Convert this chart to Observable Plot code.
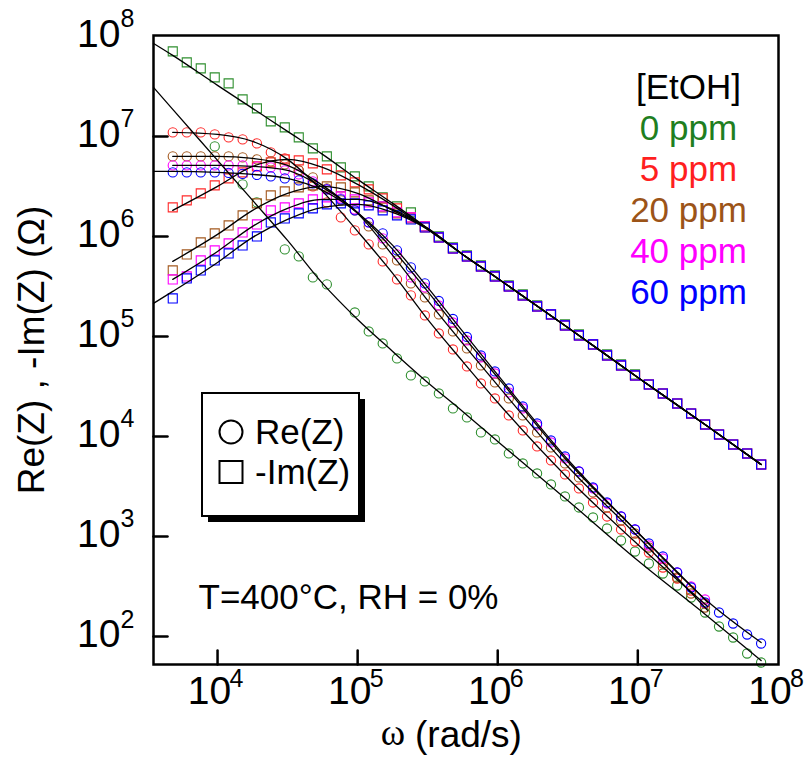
<!DOCTYPE html>
<html><head><meta charset="utf-8">
<script src="https://cdn.jsdelivr.net/npm/d3@7"></script>
<script src="https://cdn.jsdelivr.net/npm/@observablehq/plot@0.6"></script>
<style>
html,body{margin:0;padding:0;background:#fff;}
#chart svg{display:block;}
</style></head><body><div id="chart"></div>
<script>
// angular frequency of each measured point (rad/s)
const omega = [4.79e3, 6.03e3, 7.59e3, 9.55e3, 1.20e4, 1.51e4, 1.91e4, 2.40e4, 3.02e4, 3.80e4,
  4.79e4, 6.03e4, 7.59e4, 9.55e4, 1.20e5, 1.51e5, 1.91e5, 2.40e5, 3.02e5, 3.80e5,
  4.79e5, 6.03e5, 7.59e5, 9.55e5, 1.20e6, 1.51e6, 1.91e6, 2.40e6, 3.02e6, 3.80e6,
  4.79e6, 6.03e6, 7.59e6, 9.55e6, 1.20e7, 1.51e7, 1.91e7, 2.40e7, 3.02e7, 3.80e7,
  4.79e7, 6.03e7, 7.59e7];

const concentrations = ["0 ppm", "5 ppm", "20 ppm", "40 ppm", "60 ppm"];
const seriesColors = ["#2f8f2f", "#ff2a2a", "#a3581e", "#ff00ff", "#0000ff"];
const textColors = ["#1f7f1f", "#ff1f1f", "#9c5418", "#ff00ff", "#0000ff"];

// log10 of Re(Z) in ohm (null = no point)
const re0 = [null, null, null, 6.90, null, 6.52, 6.34, null, 5.87, 5.80, 5.59, 5.52, null, 5.24, 5.05, 4.93, 4.78, 4.61, 4.55, 4.43,
  4.28, 4.19, 4.04, 3.97, 3.83, 3.73, 3.63, 3.52, 3.40, 3.29, 3.19, 3.08, 2.96, 2.85, 2.73, 2.63, 2.51, 2.39, 2.24, 2.10,
  1.99, 1.83, 1.74];
const re5 = [7.04, 7.04, 7.04, 7.02, 6.99, 6.97, 6.93, 6.84, 6.78, 6.66, 6.50, 6.34, 6.19, 6.06, 5.92, 5.75, 5.57, 5.41, 5.21, 5.03,
  4.87, 4.70, 4.53, 4.38, 4.21, 4.06, 3.90, 3.76, 3.62, 3.48, 3.34, 3.20, 3.07, 2.95, 2.84, 2.69, 2.58, 2.46, 2.33, null,
  null, null, null];
const re20 = [6.80, 6.80, 6.80, 6.80, 6.80, 6.79, 6.77, 6.75, 6.72, 6.66, 6.59, 6.48, 6.36, 6.26, 6.10, 5.92, 5.76, 5.53, 5.39, 5.22,
  5.05, 4.88, 4.71, 4.54, 4.38, 4.21, 4.04, 3.89, 3.73, 3.59, 3.44, 3.29, 3.16, 3.03, 2.89, 2.73, 2.59, 2.43, 2.29, null,
  null, null, null];
const re40 = [6.71, 6.71, 6.71, 6.71, 6.71, 6.71, 6.70, 6.69, 6.66, 6.62, 6.55, 6.47, 6.38, 6.27, 6.14, 5.98, 5.82, 5.59, 5.49, 5.31,
  5.14, 4.96, 4.79, 4.63, 4.44, 4.28, 4.11, 3.94, 3.78, 3.65, 3.48, 3.33, 3.20, 3.07, 2.91, 2.78, 2.64, 2.50, 2.37, null,
  null, null, null];
const re60 = [6.64, 6.64, 6.64, 6.64, 6.635, 6.625, 6.615, 6.60, 6.58, 6.56, 6.53, 6.47, 6.37, 6.26, 6.14, 6.03, 5.86, 5.69, 5.53, 5.355,
  5.175, 4.995, 4.81, 4.65, 4.48, 4.30, 4.13, 3.96, 3.80, 3.65, 3.49, 3.34, 3.20, 3.07, 2.93, 2.80, 2.64, 2.49, 2.34, 2.24,
  2.13, 2.02, 1.93];

// log10 of -Im(Z) in ohm
const im0 = [7.85, 7.74, 7.68, 7.59, 7.53, 7.37, 7.28, 7.15, 7.09, 6.99, 6.88, 6.80, 6.69, 6.60, 6.50, 6.39, 6.30, 6.24, 6.10, 6.00,
  5.89, 5.81, 5.71, 5.61, 5.51, 5.42, 5.31, 5.22, 5.12, 5.02, 4.92, 4.82, 4.72, 4.62, 4.52, 4.43, 4.33, 4.23, 4.12, 4.02,
  3.92, 3.83, 3.72];
const im5 = [6.29, 6.36, 6.43, 6.51, 6.58, 6.64, 6.70, 6.74, 6.77, 6.76, 6.73, 6.67, 6.61, 6.54, 6.47, 6.38, 6.28, 6.19, 6.09, 5.99,
  5.88, 5.80, 5.70, 5.60, 5.50, 5.41, 5.30, 5.22, 5.11, 5.01, 4.92, 4.81, 4.71, 4.61, 4.52, 4.43, 4.33, 4.23, 4.12, 4.02,
  3.92, 3.83, 3.72];
const im20 = [5.66, 5.82, 5.94, 6.03, 6.11, 6.21, 6.33, 6.41, 6.45, 6.49, 6.51, 6.50, 6.49, 6.44, 6.36, 6.29, 6.23, 6.18, 6.10, 5.99,
  5.88, 5.80, 5.70, 5.60, 5.50, 5.41, 5.30, 5.22, 5.11, 5.01, 4.92, 4.81, 4.71, 4.61, 4.52, 4.43, 4.33, 4.23, 4.12, 4.02,
  3.92, 3.83, 3.72];
const im40 = [5.57, 5.60, 5.76, 5.86, 5.93, 6.04, 6.12, 6.26, 6.29, 6.33, 6.37, 6.39, 6.40, 6.37, 6.34, 6.30, 6.24, 6.19, 6.10, 5.99,
  5.88, 5.80, 5.70, 5.60, 5.50, 5.41, 5.30, 5.22, 5.11, 5.01, 4.92, 4.81, 4.71, 4.61, 4.52, 4.43, 4.33, 4.23, 4.12, 4.02,
  3.92, 3.83, 3.72];
const im60 = [5.38, 5.58, 5.66, 5.76, 5.83, 5.91, 6.00, 6.14, 6.18, 6.23, 6.28, 6.32, 6.33, 6.33, 6.31, 6.26, 6.21, 6.17, 6.09, 5.99,
  5.88, 5.80, 5.70, 5.60, 5.50, 5.41, 5.30, 5.22, 5.11, 5.01, 4.92, 4.81, 4.71, 4.61, 4.52, 4.43, 4.33, 4.23, 4.12, 4.02,
  3.92, 3.83, 3.72];

// fitted curves (log10 ohm) at these frequencies
const fitOmega = [3.49e3, 4.79e3, 1.0e4, 1.78e4, 3.16e4, 5.62e4, 1.0e5, 1.78e5, 3.16e5, 5.62e5, 1.0e6, 3.16e6, 1.0e7, 3.16e7, 7.59e7];
const fitRe0 = [7.49, 7.27, 6.76, 6.36, 5.96, 5.53, 5.17, 4.85, 4.54, 4.25, 3.95, 3.36, 2.76, 2.20, 1.76];
const fitRe5 = [null, 7.04, 7.02, 6.95, 6.77, 6.45, 6.05, 5.63, 5.17, 4.75, 4.34, 3.585, 2.92, 2.30, null];
const fitRe20 = [null, 6.80, 6.80, 6.78, 6.71, 6.51, 6.23, 5.81, 5.36, 4.93, 4.51, 3.70, 3.00, 2.26, null];
const fitRe40 = [null, 6.71, 6.71, 6.70, 6.66, 6.49, 6.24, 5.87, 5.45, 5.01, 4.59, 3.75, 3.04, 2.34, null];
const fitRe60 = [6.65, 6.65, 6.64, 6.62, 6.58, 6.46, 6.235, 5.91, 5.49, 5.05, 4.615, 3.77, 3.04, 2.35, 1.94];
const fitIm0 = [7.93, 7.81, 7.51, 7.28, 7.05, 6.82, 6.57, 6.33, 6.08, 5.82, 5.58, 5.09, 4.59, 4.10, 3.72];
const fitIm5 = [null, 6.26, 6.50, 6.70, 6.77, 6.69, 6.52, 6.31, 6.07, 5.82, 5.58, 5.09, 4.59, 4.10, 3.72];
const fitIm20 = [null, 5.75, 6.02, 6.26, 6.43, 6.50, 6.43, 6.26, 6.08, 5.82, 5.58, 5.09, 4.59, 4.10, 3.72];
const fitIm40 = [null, 5.57, 5.85, 6.10, 6.28, 6.37, 6.37, 6.27, 6.08, 5.82, 5.58, 5.09, 4.59, 4.10, 3.72];
const fitIm60 = [5.33, 5.45, 5.74, 5.99, 6.17, 6.29, 6.32, 6.24, 6.07, 5.82, 5.58, 5.09, 4.59, 4.10, 3.72];

const xTicks = [1e4, 1e5, 1e6, 1e7, 1e8];
const yTicks = [1e2, 1e3, 1e4, 1e5, 1e6, 1e7, 1e8];

const reSeries = [re0, re5, re20, re40, re60];
const imSeries = [im0, im5, im20, im40, im60];
const fitReSeries = [fitRe0, fitRe5, fitRe20, fitRe40, fitRe60];
const fitImSeries = [fitIm0, fitIm5, fitIm20, fitIm40, fitIm60];

function toRows(ws, logs) {
  return ws.map((w, i) => ({w, z: logs[i] == null ? null : Math.pow(10, logs[i])})).filter(d => d.z != null);
}

const FONT = "'Liberation Sans', Arial, sans-serif";
const tickShape = {draw(ctx, l) { ctx.moveTo(0, 0); ctx.lineTo(0, -l); }};

const marks = [];
concentrations.forEach((c, i) => {
  marks.push(Plot.dot(toRows(omega, imSeries[i]), {x: "w", y: "z", symbol: "square", r: 5.1, stroke: seriesColors[i], strokeWidth: 1.1, fill: "none"}));
  marks.push(Plot.dot(toRows(omega, reSeries[i]), {x: "w", y: "z", symbol: "circle", r: 4.6, stroke: seriesColors[i], strokeWidth: 1.1, fill: "none"}));
});
concentrations.forEach((c, i) => {
  marks.push(Plot.line(toRows(fitOmega, fitReSeries[i]), {x: "w", y: "z", stroke: "black", strokeWidth: 1.3, curve: "monotone-x"}));
  marks.push(Plot.line(toRows(fitOmega, fitImSeries[i]), {x: "w", y: "z", stroke: "black", strokeWidth: 1.3, curve: "monotone-x"}));
});

// inward ticks
marks.push(Plot.vector(xTicks.slice(0, 4), {x: d => d, frameAnchor: "bottom", length: 14, anchor: "start", shape: tickShape, stroke: "black", strokeWidth: 2.5}));
marks.push(Plot.vector(yTicks.slice(0, 6), {y: d => d, frameAnchor: "left", rotate: 90, length: 14, anchor: "start", shape: tickShape, stroke: "black", strokeWidth: 2.5}));
// tick labels: "10" with superscript exponent
marks.push(Plot.text(xTicks, {x: d => d, frameAnchor: "bottom", text: () => "10", dx: -8, dy: 39.5, fontSize: 39, textAnchor: "middle", fill: "black"}));
marks.push(Plot.text(xTicks, {x: d => d, frameAnchor: "bottom", text: d => String(Math.round(Math.log10(d))), dx: 12, dy: 22, fontSize: 25, textAnchor: "start", fill: "black"}));
marks.push(Plot.text(yTicks, {y: d => d, frameAnchor: "left", text: () => "10", dx: -33, dy: -2, fontSize: 39, textAnchor: "end", fill: "black"}));
marks.push(Plot.text(yTicks, {y: d => d, frameAnchor: "left", text: d => String(Math.round(Math.log10(d))), dx: -33, dy: -17, fontSize: 25, textAnchor: "start", fill: "black"}));

// axis titles
marks.push(Plot.text(["Re(Z) , -Im(Z) (Ω)"], {frameAnchor: "left", text: d => d, rotate: -90, dx: -121, fontSize: 37, textAnchor: "middle", fill: "black"}));
marks.push(Plot.text(["ω"], {frameAnchor: "bottom", text: d => d, dx: -73, dy: 80, fontSize: 37, textAnchor: "middle", fontFamily: "'Liberation Serif', 'Times New Roman', serif", fill: "black"}));
marks.push(Plot.text(["(rad/s)"], {frameAnchor: "bottom", text: d => d, dx: -51, dy: 82, fontSize: 37, textAnchor: "start", fill: "black"}));

// concentration legend
marks.push(Plot.text(["[EtOH]"], {frameAnchor: "top-right", text: d => d, dx: -90, dy: 39, fontSize: 35, textAnchor: "middle", fill: "black"}));
concentrations.forEach((c, i) => {
  marks.push(Plot.text([c], {frameAnchor: "top-right", text: d => d, dx: -90, dy: 80 + 40.8 * i, fontSize: 35, textAnchor: "middle", fill: textColors[i]}));
});
// condition note
marks.push(Plot.text(["T=400°C, RH = 0%"], {frameAnchor: "bottom-left", text: d => d, dx: 45, dy: -56, fontSize: 35, textAnchor: "start", fill: "black"}));

marks.push(Plot.frame({stroke: "black", strokeWidth: 2.5}));

const chart = Plot.plot({
  width: 806, height: 765,
  marginLeft: 153, marginRight: 28, marginTop: 35, marginBottom: 101,
  style: {fontFamily: FONT, background: "white", overflow: "visible"},
  x: {type: "log", domain: [3490, 1.01e8], axis: null},
  y: {type: "log", domain: [52.5, 1.02e8], axis: null},
  marks
});
document.getElementById("chart").appendChild(chart);

// boxed symbol legend with drop shadow
const svg = d3.select(chart);
const g = svg.append("g").attr("font-family", FONT).attr("text-anchor", "start");
g.append("rect").attr("x", 208).attr("y", 399).attr("width", 157).attr("height", 123).attr("fill", "black");
g.append("rect").attr("x", 202).attr("y", 393).attr("width", 157).attr("height", 123).attr("fill", "white").attr("stroke", "black").attr("stroke-width", 2);
g.append("circle").attr("cx", 231).attr("cy", 432).attr("r", 11.5).attr("fill", "none").attr("stroke", "black").attr("stroke-width", 2);
g.append("rect").attr("x", 219.5).attr("y", 461).attr("width", 23).attr("height", 22).attr("fill", "none").attr("stroke", "black").attr("stroke-width", 2);
g.append("text").attr("x", 255).attr("y", 432).attr("dy", "0.35em").attr("font-size", 35).attr("text-anchor", "start").text("Re(Z)");
g.append("text").attr("x", 255).attr("y", 472).attr("dy", "0.35em").attr("font-size", 35).attr("text-anchor", "start").text("-Im(Z)");
</script></body></html>
